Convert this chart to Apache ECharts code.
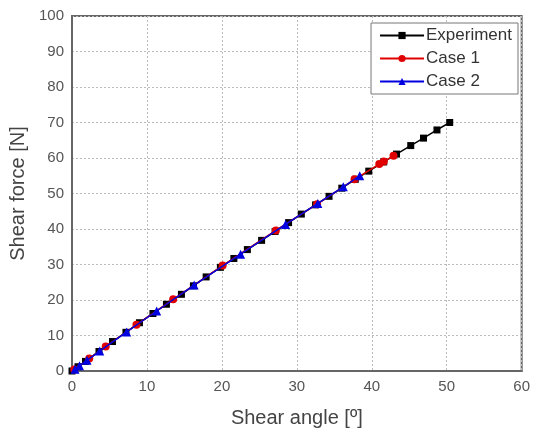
<!DOCTYPE html>
<html>
<head>
<meta charset="utf-8">
<script src="https://cdn.jsdelivr.net/npm/echarts@6/dist/echarts.min.js"></script>
<style>
  html, body { margin: 0; padding: 0; background: #fff; }
  #main { width: 533px; height: 433px; }
</style>
</head>
<body>
<div id="main"></div>
<script>
// shear angle [deg] / shear force [N]
var expAngle = [0, 0.8, 1.8, 3.6, 5.4, 7.2, 9.0, 10.8, 12.6, 14.6, 16.2, 17.9, 19.8, 21.6, 23.4, 25.3, 27.1, 28.9, 30.6, 32.5, 34.3, 36.0, 37.8, 39.6, 41.6, 43.3, 45.2, 46.9, 48.7, 50.4];
var expForce = [0, 1.2, 2.7, 5.5, 8.3, 10.9, 13.6, 16.2, 18.8, 21.6, 24.0, 26.5, 29.2, 31.7, 34.2, 36.8, 39.3, 41.8, 44.2, 46.8, 49.2, 51.5, 54.0, 56.3, 58.9, 61.1, 63.5, 65.6, 67.9, 70.0];

var case1Angle = [0.3, 2.3, 4.5, 8.6, 13.5, 20.1, 27.2, 32.7, 37.7, 41.0, 41.6, 42.9];
var case1Force = [0.4, 3.5, 6.9, 13.0, 20.2, 29.7, 39.6, 47.0, 54.0, 58.3, 59.0, 60.6];

var case2Angle = [0.4, 1.0, 2.0, 3.7, 7.3, 11.3, 16.3, 22.5, 28.5, 32.8, 36.2, 38.4];
var case2Force = [0.5, 1.5, 3.0, 5.6, 11.0, 16.9, 24.2, 32.9, 41.3, 47.2, 51.9, 55.0];

function pairs(xs, ys) {
  var out = [];
  for (var i = 0; i < xs.length; i++) out.push([xs[i], ys[i]]);
  return out;
}

var font = 'Liberation Sans, Arial, sans-serif';
var chart = echarts.init(document.getElementById('main'));

var option = {
  animation: false,
  grid: {
    left: 72, right: 8, top: 16, bottom: 60,
    show: true, borderColor: '#666', borderWidth: 2, backgroundColor: '#fff'
  },
  legend: {
    orient: 'vertical',
    right: 15, top: 23,
    padding: [4, 6, 4, 8],
    itemGap: 6,
    itemWidth: 44, itemHeight: 9,
    backgroundColor: '#fff',
    borderColor: '#777', borderWidth: 1, borderRadius: 0,
    textStyle: { fontFamily: font, fontSize: 17, color: '#333', padding: [0, 0, 0, -3] },
    data: ['Experiment', 'Case 1', 'Case 2']
  },
  xAxis: {
    type: 'value', min: 0, max: 60, interval: 10,
    name: 'Shear angle [º]', nameLocation: 'middle', nameGap: 37,
    nameTextStyle: { fontFamily: font, fontSize: 20, color: '#444' },
    axisLine: { show: true, lineStyle: { color: '#666', width: 2 } },
    axisTick: { show: false },
    axisLabel: { fontFamily: font, fontSize: 15, color: '#555', margin: 8 },
    splitLine: { show: true, lineStyle: { color: '#bbb', type: [2, 2], width: 1 } }
  },
  yAxis: {
    type: 'value', min: 0, max: 100, interval: 10,
    name: 'Shear force [N]', nameLocation: 'middle', nameGap: 40,
    nameTextStyle: { fontFamily: font, fontSize: 20, color: '#444' },
    axisLine: { show: true, lineStyle: { color: '#666', width: 2 } },
    axisTick: { show: false },
    axisLabel: { fontFamily: font, fontSize: 15, color: '#555', margin: 8 },
    splitLine: { show: true, lineStyle: { color: '#bbb', type: [2, 2], width: 1 } }
  },
  series: [
    {
      name: 'Experiment', type: 'line', z: 2,
      data: pairs(expAngle, expForce),
      symbol: 'rect', symbolSize: 7,
      lineStyle: { color: '#000', width: 1.5 },
      itemStyle: { color: '#000' }
    },
    {
      name: 'Case 1', type: 'line', z: 3,
      data: pairs(case1Angle, case1Force),
      symbol: 'circle', symbolSize: 8,
      lineStyle: { color: '#e00000', width: 1.5 },
      itemStyle: { color: '#e00000' }
    },
    {
      name: 'Case 2', type: 'line', z: 4,
      data: pairs(case2Angle, case2Force),
      symbol: 'triangle', symbolSize: 9,
      lineStyle: { color: '#0000e0', width: 1.5 },
      itemStyle: { color: '#0000e0' }
    }
  ]
};

chart.setOption(option);
</script>
</body>
</html>
